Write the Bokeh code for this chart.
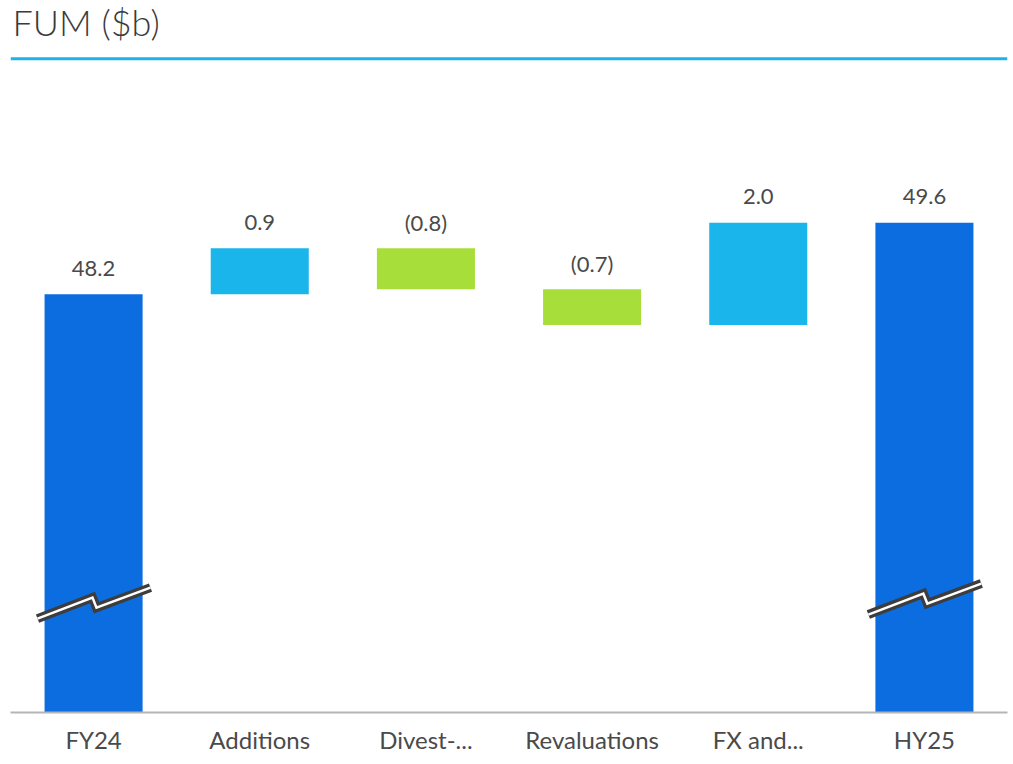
from bokeh.plotting import figure
from bokeh.models import ColumnDataSource, Span, FactorRange, Range1d
from bokeh.core.properties import value
from bokeh.embed import file_html
from bokeh.resources import INLINE

# ---- data ----
categories = ["FY24", "Additions", "Divest-...", "Revaluations", "FX and...", "HY25"]
amounts = [48.2, 0.9, -0.8, -0.7, 2.0, 49.6]
kinds = ["total", "delta", "delta", "delta", "delta", "total"]
value_labels = ["48.2", "0.9", "(0.8)", "(0.7)", "2.0", "49.6"]
break_levels = [41.84, None, None, None, None, 41.92]
title_text = "FUM ($b)"

Y_START = 40.0
Y_END = 53.96
RULE_Y = 52.82

C_TOTAL = "#0B6DDF"
C_POS = "#1AB5EA"
C_NEG = "#A8DE3A"
FONT = "Lato"
TITLE_FONT = "Lato Light"

# ---- waterfall geometry from the data ----
bottoms, tops, colors = [], [], []
running = 0.0
for amt, kind in zip(amounts, kinds):
    if kind == "total":
        bottoms.append(Y_START)
        tops.append(amt)
        colors.append(C_TOTAL)
        running = amt
    else:
        new = running + amt
        bottoms.append(min(running, new))
        tops.append(max(running, new))
        colors.append(C_POS if amt >= 0 else C_NEG)
        running = new

src = ColumnDataSource(dict(cat=categories, bottom=bottoms, top=tops,
                            color=colors, label=value_labels))

p = figure(x_range=FactorRange(*categories), y_range=Range1d(Y_START, Y_END),
           width=1010, height=760, output_backend="svg", toolbar_location=None,
           title=None, min_border_left=10, min_border_right=3, min_border_top=0,
           min_border_bottom=48)

p.vbar(x="cat", bottom="bottom", top="top", width=0.59, color="color",
       line_color=None, source=src)

p.text(x="cat", y="top", text="label", source=src, text_align="center",
       text_baseline="alphabetic", y_offset=-26, text_font_size="22px",
       text_color="#4a4a4a", text_font=value(FONT))

# axis-break markers on the total bars
zig_dx = [-0.3375, -0.0066, 0.0174, 0.3424]
zig_dy = [0.0, 0.412, 0.216, 0.608]
bxs, bys = [], []
for i, lvl in enumerate(break_levels):
    if lvl is None:
        continue
    bxs.append([i + 0.5 + d for d in zig_dx])
    bys.append([lvl + d for d in zig_dy])
p.multi_line(xs=bxs, ys=bys, line_color="#3d3d3d", line_width=9, line_join="miter")
p.multi_line(xs=bxs, ys=bys, line_color="white", line_width=2.5, line_join="miter")

# header: title text and cyan rule
p.text(x=[0], y=[Y_END], text=[title_text], text_align="left",
       text_baseline="alphabetic", x_offset=2, y_offset=21,
       text_font_size="36px", text_color="#3a3a3a", text_font=value(TITLE_FONT))
p.add_layout(Span(location=RULE_Y, dimension="width", line_color="#1DB3E6",
                  line_width=3))

p.yaxis.visible = False
p.xgrid.grid_line_color = None
p.ygrid.grid_line_color = None
p.outline_line_color = None
p.xaxis.axis_line_color = "#b5b5b5"
p.xaxis.axis_line_width = 2
p.xaxis.major_tick_line_color = None
p.xaxis.minor_tick_line_color = None
p.xaxis.major_label_text_font = FONT
p.xaxis.major_label_text_font_size = "24px"
p.xaxis.major_label_text_color = "#4a4a4a"
p.xaxis.major_label_standoff = 6

open("out.html", "w").write(file_html(p, INLINE))
